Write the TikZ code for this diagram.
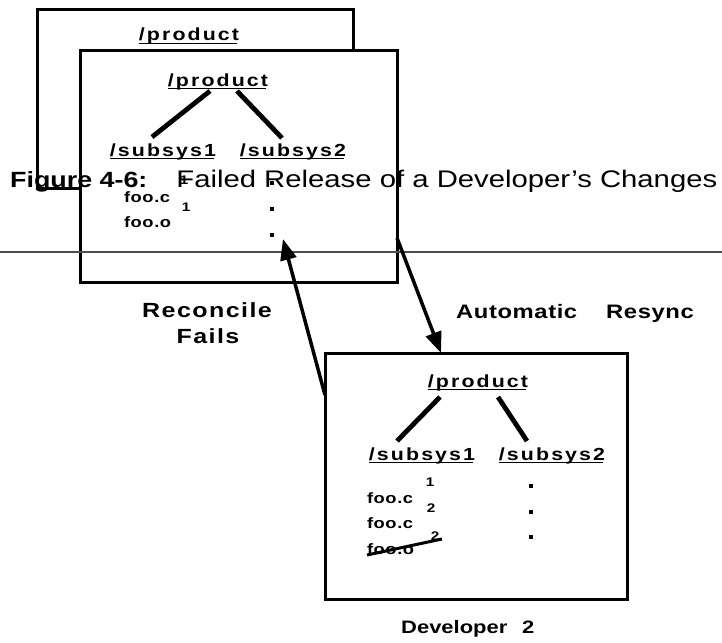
\documentclass[tikz,border=0pt]{standalone}
\usepackage{fontspec}
\setmainfont{Liberation Sans}[FakeStretch=1.22]
\usetikzlibrary{arrows.meta}
\newcommand\myls[2]{\bfseries\fontsize{#1}{#1}\selectfont\addfontfeature{LetterSpace=#2}}
\begin{document}
\begin{tikzpicture}[x=1pt,y=-1pt,
  box/.style={draw,line width=3pt,fill=white,rectangle,inner sep=0,outer sep=0},
  dirn/.style={font=\myls{17.5}{12},inner sep=0,outer sep=0,anchor=base},
  file/.style={font=\myls{15}{4},inner sep=0,outer sep=0,anchor=base west},
  supn/.style={font=\bfseries\fontsize{12.5}{12.5}\selectfont,inner sep=0},
  tree/.style={line width=4.8pt},
  ul/.style={line width=1.3pt},
  arr/.style={line width=3.5pt,-{Triangle[length=21pt,width=16pt]}},
  dotn/.style={fill=black,minimum size=3.5pt,inner sep=0,rectangle}
]
\useasboundingbox (0,0) rectangle (722,642);
\fill[white] (0,0) rectangle (722,642);

% back box
\node[box,minimum width=316pt,minimum height=178pt,anchor=north west] (back) at (37,10) {};
\node[dirn] (bp) at (189,41) {/product};
\draw[ul] ([yshift=-2.5pt]bp.base west) -- ([yshift=-2.5pt,xshift=-2pt]bp.base east);

% front box
\node[box,minimum width=317pt,minimum height=231pt,anchor=north west] (front) at (80,51) {};
\node[dirn] (fp) at (218,86) {/product};
\draw[ul] ([yshift=-2.5pt]fp.base west) -- ([yshift=-2.5pt,xshift=-2pt]fp.base east);
\node[dirn] (fs1) at (163,156) {/subsys1};
\draw[ul] ([yshift=-2.5pt]fs1.base west) -- ([yshift=-2.5pt,xshift=-2pt]fs1.base east);
\node[dirn] (fs2) at (293,156) {/subsys2};
\draw[ul] ([yshift=-2.5pt]fs2.base west) -- ([yshift=-2.5pt,xshift=-2pt]fs2.base east);
\draw[tree] ([xshift=-8pt,yshift=-5pt]fp.base) -- ([xshift=-11pt,yshift=19pt]fs1.base);
\draw[tree] ([xshift=19pt,yshift=-5pt]fp.base) -- ([xshift=-11pt,yshift=18pt]fs2.base);
\node[file] (ff1) at (124,202) {foo.c};
\node[supn] (fu1) at (184,180) {1};
\node[file] (ff2) at (124,227) {foo.o};
\node[supn] (fu2) at (186,207) {1};
\node[dotn] (fd1) at (272,183) {};
\node[dotn] (fd2) at (272,209) {};
\node[dotn] (fd3) at (272,235) {};

% rule
\draw[line width=1.3pt,black!70] (0,252) -- (722,252);

% bottom box
\node[box,minimum width=302pt,minimum height=246pt,anchor=north west] (bot) at (325,353) {};
\node[dirn] (dp) at (478,387) {/product};
\draw[ul] ([yshift=-2.5pt]dp.base west) -- ([yshift=-2.5pt,xshift=-2pt]dp.base east);
\node[dirn] (ds1) at (422,460) {/subsys1};
\draw[ul] ([yshift=-2.5pt]ds1.base west) -- ([yshift=-2.5pt,xshift=-2pt]ds1.base east);
\node[dirn] (ds2) at (552,460) {/subsys2};
\draw[ul] ([yshift=-2.5pt]ds2.base west) -- ([yshift=-2.5pt,xshift=-2pt]ds2.base east);
\draw[tree] ([xshift=-38pt,yshift=-10pt]dp.base) -- ([xshift=-25pt,yshift=19pt]ds1.base);
\draw[tree] ([xshift=20pt,yshift=-10pt]dp.base) -- ([xshift=-25pt,yshift=19pt]ds2.base);
\node[file] (df1) at (367,503) {foo.c};
\node[supn] (du1) at (430,482) {1};
\node[file] (df2) at (367,528) {foo.c};
\node[supn] (du2) at (431,508) {2};
\node[file] (df3) at (367,554) {foo.o};
\node[supn] (du3) at (435,536) {2};
\draw[line width=3pt] ([xshift=0pt,yshift=-1pt]df3.base west) -- ([xshift=7pt,yshift=-3pt]du3.center);
\node[dotn] (dd1) at (531,486) {};
\node[dotn] (dd2) at (531,512) {};
\node[dotn] (dd3) at (531,537) {};

% arrows
\coordinate (rtip) at (283,239);
\draw[arr] ([yshift=-42pt]bot.north west) -- (rtip);
\draw[arr] ([yshift=44pt]front.south east) -- ([xshift=116pt]bot.north west);

% labels
\node[font=\myls{20.5}{7},inner sep=0,anchor=base] (rec) at (207,317) {Reconcile};
\node[font=\myls{20.5}{7},inner sep=0,anchor=base] (fails) at (208,343) {Fails};
\node[font=\myls{19.5}{3},inner sep=0,anchor=base west] (auto) at (456,318) {Automatic};
\node[font=\myls{19.5}{3},inner sep=0,anchor=base west] (resync) at (606,318) {Resync};
\node[font=\myls{18}{0},inner sep=0,anchor=base west] (dev) at (401,633) {Developer};
\node[font=\myls{18}{0},inner sep=0,anchor=base west] (dev2) at (522,633) {2};

% caption
\node[anchor=base west,inner sep=0,font=\fontsize{24}{28}\selectfont] (cap) at (10,187) {{\bfseries\fontsize{22}{28}\selectfont Figure 4-6:}\hspace{29pt}Failed Release of a Developer’s Changes};
\end{tikzpicture}
\end{document}
